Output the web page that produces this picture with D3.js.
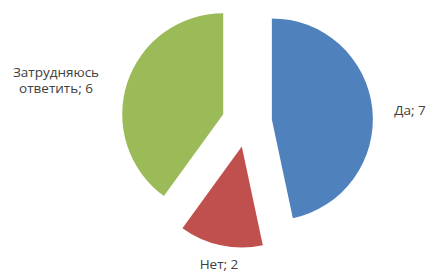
<!DOCTYPE html>
<html>
<head>
<meta charset="utf-8">
<script src="https://cdn.jsdelivr.net/npm/d3@7"></script>
<style>
  body { margin: 0; background: #fff; }
  text { font-family: "Open Sans", "Noto Sans", sans-serif; font-size: 13.5px; fill: #404040; }
</style>
</head>
<body>
<div id="chart"></div>
<script>
const categories = ["Да", "Нет", "Затрудняюсь ответить"];
const values = [7, 2, 6];
const colors = ["#4F81BD", "#C0504D", "#9BBB59"];

const width = 430, height = 271;
const cx = 247, cy = 122;
const radius = 101;
const explode = 25;

const svg = d3.select("#chart")
    .append("svg")
    .attr("width", width)
    .attr("height", height);

const data = categories.map((c, i) => ({name: c, value: values[i], color: colors[i]}));

const pie = d3.pie()
    .value(d => d.value)
    .sort(null);

const arc = d3.arc()
    .innerRadius(0)
    .outerRadius(radius);

const arcs = pie(data);

const g = svg.append("g")
    .attr("transform", `translate(${cx}, ${cy})`);

// сдвигаем каждый сектор по биссектрисе
g.selectAll("path")
    .data(arcs)
    .enter()
    .append("path")
    .attr("d", arc)
    .attr("fill", d => d.data.color)
    .attr("transform", d => {
        const a = (d.startAngle + d.endAngle) / 2;
        return `translate(${explode * Math.sin(a)}, ${-explode * Math.cos(a)})`;
    });

// подписи: позиция центра строки
const labelPos = [
    {x: 410, y: 110, lines: ["Да; 7"]},
    {x: 219, y: 264, lines: ["Нет; 2"]},
    {x: 56, y: 72, lines: ["Затрудняюсь", "ответить; 6"]}
];

labelPos.forEach(p => {
    const t = svg.append("text")
        .attr("text-anchor", "middle");
    p.lines.forEach((s, j) => {
        t.append("tspan")
            .attr("x", p.x)
            .attr("y", p.y + j * 16)
            .attr("dy", "0.35em")
            .text(s);
    });
});
</script>
</body>
</html>
